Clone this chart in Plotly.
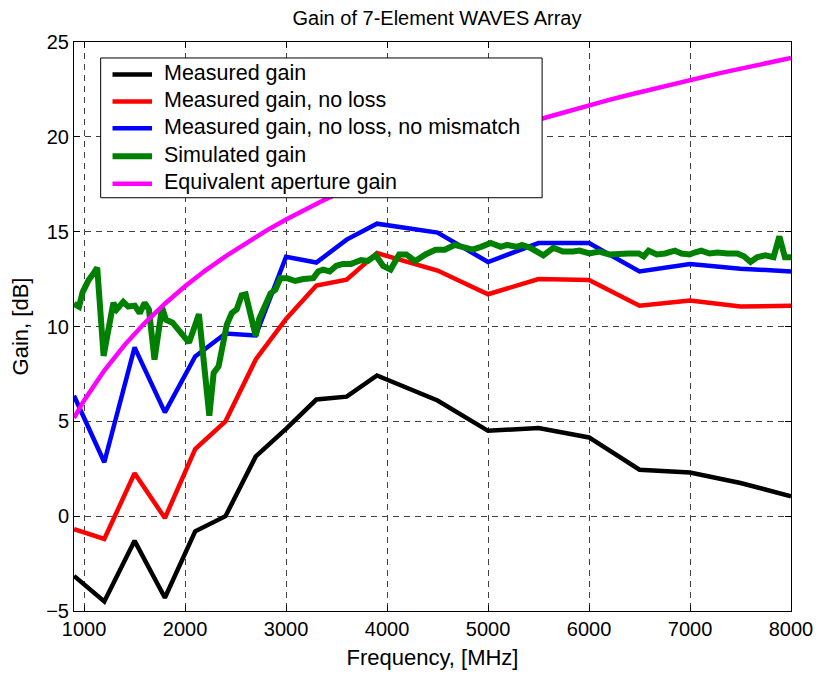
import plotly.graph_objects as go

# Measured data (frequency in MHz, gain in dB)
freq_meas = [900, 1200, 1500, 1800, 2100, 2400, 2700, 3000, 3300, 3600,
             3900, 4500, 5000, 5500, 6000, 6500, 7000, 7500, 8000]
gain_meas = [-3.15, -4.5, -1.3, -4.3, -0.8, 0.0, 3.15, 4.6, 6.15, 6.3,
             7.42, 6.1, 4.5, 4.65, 4.15, 2.45, 2.3, 1.75, 1.05]
gain_noloss = [-0.68, -1.2, 2.26, -0.1, 3.53, 5.0, 8.26, 10.4, 12.16, 12.47,
               13.87, 12.95, 11.7, 12.5, 12.45, 11.1, 11.37, 11.05, 11.1]
gain_noloss_nomis = [6.35, 2.84, 8.9, 5.47, 8.42, 9.63, 9.53, 13.68, 13.37, 14.58,
                     15.42, 14.95, 13.4, 14.4, 14.4, 12.9, 13.3, 13.05, 12.9]

# Simulated gain
freq_sim = [900, 950, 985, 1045, 1100, 1130, 1193, 1290, 1323, 1388,
            1437, 1502, 1551, 1600, 1642, 1697, 1772, 1811, 1876, 1942,
            2039, 2137, 2240, 2283, 2332, 2413, 2462, 2511, 2560, 2600,
            2650, 2700, 2733, 2846, 2895, 2944, 3009, 3091, 3172, 3270,
            3318, 3367, 3432, 3498, 3563, 3644, 3693, 3742, 3807, 3888,
            3960, 4035, 4120, 4190, 4279, 4380, 4480, 4571, 4669, 4767,
            4848, 4930, 5027, 5125, 5190, 5288, 5336, 5418, 5499, 5548,
            5646, 5743, 5841, 5906, 6004, 6101, 6199, 6297, 6394, 6492,
            6541, 6590, 6671, 6753, 6850, 6915, 6997, 7045, 7111, 7192,
            7273, 7371, 7468, 7534, 7599, 7664, 7745, 7827, 7885, 7940,
            8000]
gain_sim = [11.2, 11.05, 11.8, 12.45, 12.85, 13.1, 8.45, 11.25, 10.9, 11.3,
            11.05, 11.1, 10.7, 11.25, 10.9, 8.25, 11.0, 10.35, 10.2, 9.75,
            9.15, 10.65, 5.3, 7.55, 7.9, 10.1, 10.7, 10.9, 11.65, 11.7,
            10.6, 9.5, 10.4, 11.75, 11.95, 12.55, 12.55, 12.4, 12.5, 12.55,
            12.9, 13.0, 12.9, 13.2, 13.3, 13.3, 13.4, 13.5, 13.45, 13.75,
            13.2, 13.0, 13.8, 13.8, 13.45, 13.8, 14.05, 14.05, 14.3, 14.15,
            14.05, 14.2, 14.4, 14.2, 14.3, 14.2, 14.3, 14.15, 13.95, 13.75,
            14.15, 13.95, 13.95, 14.0, 13.85, 13.95, 13.8, 13.85, 13.85, 13.85,
            13.7, 14.0, 13.8, 13.85, 14.0, 13.85, 13.8, 13.9, 14.0, 13.85,
            13.9, 13.85, 13.85, 13.7, 13.4, 13.65, 13.75, 13.65, 14.75, 13.65,
            13.65]

# Equivalent aperture gain
freq_ap = [900, 1000, 1200, 1400, 1600, 1800, 2000, 2200, 2400, 2600,
           2800, 3000, 3200, 3400, 3600, 3800, 4000, 4200, 4400, 4600,
           4800, 5000, 5200, 5400, 5600, 5800, 6000, 6200, 6400, 6600,
           6800, 7000, 7200, 7400, 7600, 7800, 8000]
gain_ap = [5.18, 6.1, 7.68, 9.02, 10.18, 11.2, 12.12, 12.95, 13.7, 14.4,
           15.04, 15.64, 16.2, 16.73, 17.22, 17.69, 18.14, 18.56, 18.97, 19.35,
           19.72, 20.08, 20.42, 20.75, 21.06, 21.37, 21.66, 21.95, 22.22, 22.49,
           22.75, 23.0, 23.24, 23.48, 23.71, 23.94, 24.16]

x_ticks = [1000, 2000, 3000, 4000, 5000, 6000, 7000, 8000]
y_ticks = [-5, 0, 5, 10, 15, 20, 25]

FONT = "Liberation Sans, Arial, sans-serif"
W, H = 825, 677
ML, MR, MT, MB = 74, 25, 42, 65
PW, PH = W - ML - MR, H - MT - MB


def px_x(px):
    """Pixel column -> paper x coordinate."""
    return (px - ML) / PW


def px_y(py):
    """Pixel row -> paper y coordinate."""
    return (H - MB - py) / PH


series = [
    ("Measured gain", freq_meas, gain_meas, "#000000", 4.5),
    ("Measured gain, no loss", freq_meas, gain_noloss, "#ff0000", 4.5),
    ("Measured gain, no loss, no mismatch", freq_meas, gain_noloss_nomis, "#0000ff", 4.5),
    ("Simulated gain", freq_sim, gain_sim, "#008000", 6),
    ("Equivalent aperture gain", freq_ap, gain_ap, "#ff00ff", 4.5),
]

fig = go.Figure()
for name, xs, ys, color, w in series:
    fig.add_trace(go.Scatter(x=xs, y=ys, mode="lines", name=name,
                             line=dict(color=color, width=w)))

# Boxed legend in the upper-left corner of the axes
shapes = [dict(type="rect", xref="paper", yref="paper", layer="above",
               x0=px_x(101), x1=px_x(548), y0=px_y(198), y1=px_y(58),
               line=dict(color="black", width=1), fillcolor="white")]
annotations = []
entry_rows = [74.5, 101.5, 128.5, 156.5, 184]
for (name, _, _, color, w), row in zip(series, entry_rows):
    shapes.append(dict(type="line", xref="paper", yref="paper", layer="above",
                       x0=px_x(113), x1=px_x(153), y0=px_y(row), y1=px_y(row),
                       line=dict(color=color, width=w)))
    annotations.append(dict(text=name, xref="paper", yref="paper",
                            x=px_x(163), y=px_y(row - 1.5), xanchor="left",
                            yanchor="middle", showarrow=False,
                            font=dict(family=FONT, size=21.5, color="black")))

axis_common = dict(
    showline=True, linecolor="black", linewidth=1, mirror="ticks",
    ticks="inside", ticklen=6, tickcolor="black",
    showgrid=True, gridcolor="#404040", gridwidth=1, griddash="6px,5px",
    zeroline=False, tickfont=dict(family=FONT, size=20, color="black"),
)

fig.update_layout(
    width=W, height=H,
    margin=dict(l=ML, r=MR, t=MT, b=MB),
    paper_bgcolor="white", plot_bgcolor="white",
    title=dict(text="Gain of 7-Element WAVES Array",
               x=(ML + PW / 2) / W, xref="container", xanchor="center",
               y=1 - 18 / H, yanchor="middle",
               font=dict(family=FONT, size=20, color="black")),
    xaxis=dict(range=[900, 8000], tickvals=x_ticks,
               title=dict(text="Frequency, [MHz]", standoff=10,
                          font=dict(family=FONT, size=22, color="black")),
               **axis_common),
    yaxis=dict(range=[-5, 25], tickvals=y_ticks,
               title=dict(text="Gain, [dB]", standoff=11,
                          font=dict(family=FONT, size=22, color="black")),
               **axis_common),
    shapes=shapes,
    annotations=annotations,
    showlegend=False,
)

fig.write_html("out.html")
